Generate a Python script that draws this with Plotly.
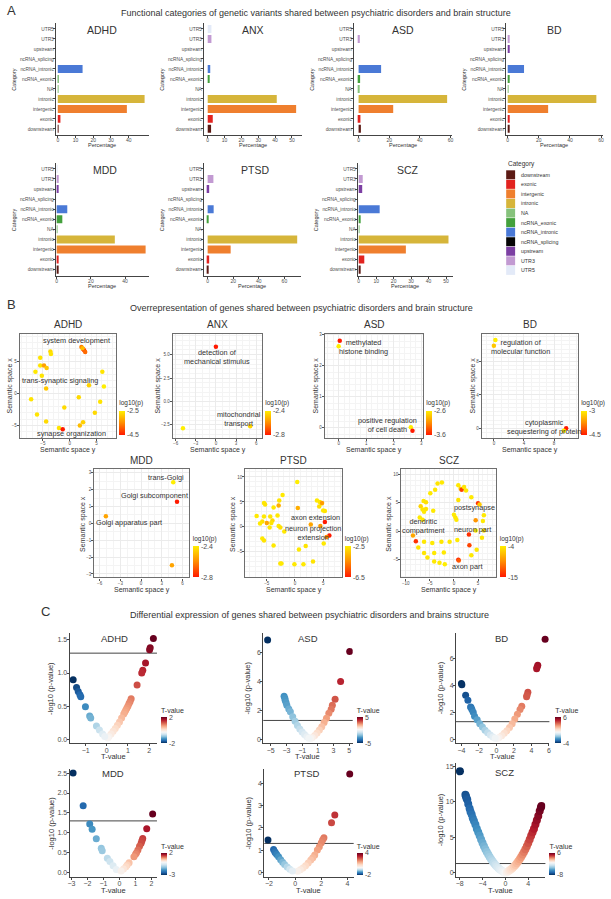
import plotly.graph_objects as go

W, H = 611, 899
FONT = "Liberation Sans, Arial, sans-serif"
TXT = "#333333"
TICK = "#4d4d4d"

# ---------------- A: functional categories ----------------
categories = ["downstream", "exonic", "intergenic", "intronic", "NA", "ncRNA_exonic",
              "ncRNA_intronic", "ncRNA_splicing", "upstream", "UTR3", "UTR5"]
cat_colors = ["#5c1a14", "#e2231f", "#ef7f2e", "#d6b53a", "#86c27c", "#43a03c",
              "#4a79d6", "#050505", "#7c3fa3", "#c29ad2", "#e3eaf8"]
a_disorders = ["ADHD", "ANX", "ASD", "BD", "MDD", "PTSD", "SCZ"]
pct_adhd = [0.3, 1.5, 39, 49, 0.3, 0.3, 14, 0, 0, 0, 0]
pct_anx = [2.0, 3.0, 52.5, 41, 0, 0.8, 1.5, 0, 0, 2.2, 2.2]
pct_asd = [1.5, 1.2, 22.6, 57.8, 0.5, 1.0, 14.7, 0, 0, 0.8, 0]
pct_bd = [1.0, 1.3, 26, 57, 0.5, 1.0, 10.5, 0, 1.3, 0.8, 0]
pct_mdd = [0.6, 0.6, 52, 34, 0.5, 3.3, 6.2, 0, 0.8, 1.2, 0.3]
pct_ptsd = [0.6, 1.2, 18, 70, 0, 0.8, 4.7, 0, 1.2, 4.5, 0]
pct_scz = [1.0, 3.2, 27, 51.4, 0.5, 1.0, 12, 0, 2.0, 2.3, 0.3]
a_pct = [pct_adhd, pct_anx, pct_asd, pct_bd, pct_mdd, pct_ptsd, pct_scz]
a_ticks = [[0, 10, 20, 30, 40], [0, 10, 20, 30, 40, 50], [0, 20, 40, 60], [0, 20, 40, 60],
           [0, 20, 40], [0, 20, 40, 60], [0, 10, 20, 30, 40, 50]]

# ---------------- B: semantic space of GO terms ----------------
b_disorders = ["ADHD", "ANX", "ASD", "BD", "MDD", "PTSD", "SCZ"]
adhd_sem_y = [2.2, 2.5, 2.7, 2.9, 2.4, -3.6, -3.5, -5.5, -6.4, -5.5, -4.8, -4.3, -5.2, -4.4, -7.2,
              3.6, 6.1, 6.4, 1.7, -1.0, 5.7, -6.1, 4.7, -4.4, 2.5, 1.9, -2.0, -1.3]
adhd_sem_x = [7.3, 7.0, 6.8, 6.5, 7.1, 6.6, 6.2, 5.6, 3.4, 4.4, 4.4, 4.0, 2.8, 0.8, -0.9,
              1.3, 3.4, 1.1, -0.6, -2.2, -1.3, -3.3, -3.0, -4.4, -4.5, -5.0, -5.4, -5.6]
adhd_logp = [-3.6, -3.9, -4.2, -3.8, -3.0, -2.7, -2.6, -2.6, -2.55, -2.6, -3.3, -2.9, -2.6, -2.9, -2.6,
             -2.8, -2.6, -2.5, -2.7, -2.7, -2.6, -2.6, -2.7, -2.7, -2.8, -3.0, -2.6, -4.5]
anx_sem_y = [0.0, -4.9, 5.1]
anx_sem_x = [5.85, -2.86, -2.65]
anx_logp = [-2.8, -2.4, -2.45]
asd_sem_y = [0.04, 0.0, 2.62, 2.68]
asd_sem_x = [2.81, 2.63, 0.02, -0.09]
asd_logp = [-3.6, -2.6, -2.6, -3.6]
bd_sem_y = [0.2, 0.0, 9.6, 9.3]
bd_sem_x = [10.6, 9.9, 0.0, -0.3]
bd_logp = [-3.0, -3.3, -4.5, -3.0]
mdd_sem_y = [4.65, 5.2, -5.1, 4.46]
mdd_sem_x = [2.44, 1.28, 0.43, -2.48]
mdd_logp = [-2.4, -2.8, -2.55, -2.55]
ptsd_sem_y = [0.4, -2.2, -2.8, -2.9, -5.5, -5.3, -3.8, 0.5, -6.8, -5.5, -4.4, -3.1, -5.8, -4.0, -5.0,
              -6.2, -4.2, -2.9, -2.6, -4.5, -1.9, -5.8, -5.5, -3.8, 0.7, 1.9, -2.6, -2.4, -0.1, 1.5,
              3.2, 3.9, 4.4, 4.7, 4.3, 4.8, 5.0, 5.3, 2.8, 4.5, 5.3, 6.1, 5.6, 5.1]
ptsd_sem_x = [9.0, 6.4, 5.3, 4.3, 4.8, 4.5, 3.9, 3.8, 2.2, 2.1, 2.1, 2.3, 1.1, 1.3, 0.8,
              0.7, 0.8, 0.2, -0.1, -0.1, -0.9, -2.3, -2.7, -3.7, -4.5, -3.8, -7.3, -7.3, -7.5, -7.5,
              -6.9, 5.3, 5.0, 4.7, 4.1, 4.8, 3.3, 3.2, 0.5, 0.2, 1.0, -1.7, -2.0, -3.3]
ptsd_logp = [-2.5, -2.6, -2.7, -3.8, -2.6, -2.7, -2.6, -3.8, -2.6, -2.6, -2.7, -2.6, -2.8, -3.0, -4.0,
             -2.6, -2.7, -2.6, -2.8, -2.6, -2.6, -2.6, -2.7, -2.6, -2.6, -2.7, -2.7, -2.6, -2.6, -2.6,
             -2.7, -2.6, -2.7, -2.6, -2.8, -4.2, -2.6, -2.7, -4.0, -4.2, -6.5, -6.5, -4.5, -2.6]
scz_sem_y = [-3.4, -2.5, -3.9, -4.9, 0.9, 1.4, 1.6, 2.1, 2.5, 0.9, 3.6, 5.0, 5.3, -6.3, -5.8,
             -6.9, -6.5, -6.2, -5.8, -4.3, -7.1, -6.5, 0.0, 0.3, 0.5, 4.5, 6.2, 6.0, 6.2, 4.5,
             3.1, 5.8, -8.5, -7.9, -7.4, -6.2, -4.5, -2.6, -0.9, 0.7, 3.2, 4.7, 3.6, -6.2, -4.1,
             -2.1, -5.5, -4.1, -3.0, -1.9, 0.9, 1.0]
scz_sem_x = [8.4, 8.6, 7.3, 6.7, 8.1, 7.5, 7.3, 7.8, 7.2, 5.5, 6.0, 4.9, 4.7, 5.3, 5.1,
             4.4, 3.8, 3.4, 3.9, 3.6, 2.4, 2.0, 2.9, 2.4, 2.0, 1.9, 2.8, 1.8, 0.1, 0.1,
             -0.6, -1.2, -0.8, -1.8, -2.9, -1.9, -2.1, -1.9, -1.9, -1.6, -2.5, -3.3, -4.3, -3.9, -3.9,
             -3.8, -4.7, -5.4, -5.6, -5.9, -5.1, -5.2]
scz_logp = [-4.5, -4.3, -4.4, -4.2, -4.3, -5.5, -13, -4.5, -4.3, -4.6, -4.2, -14, -6, -4.4, -4.8,
            -5.5, -4.5, -4.3, -4.6, -4.2, -4.3, -4.4, -4.2, -4.4, -4.3, -9, -4.3, -4.2, -4.5, -4.3,
            -14, -4.4, -8, -14, -4.6, -4.3, -4.2, -4.4, -4.3, -4.2, -13, -4.4, -4.3, -4.5, -4.2,
            -4.3, -4.4, -4.3, -4.2, -4.0, -15, -12]
b_points = [(adhd_sem_y, adhd_sem_x, adhd_logp), (anx_sem_y, anx_sem_x, anx_logp),
            (asd_sem_y, asd_sem_x, asd_logp), (bd_sem_y, bd_sem_x, bd_logp),
            (mdd_sem_y, mdd_sem_x, mdd_logp), (ptsd_sem_y, ptsd_sem_x, ptsd_logp),
            (scz_sem_y, scz_sem_x, scz_logp)]
# term labels: (text, semantic y, semantic x)
b_terms = [
    [("system development", 1.3, 8.3), ("trans-synaptic signaling", -1.9, 2.0), ("synapse organization", 0.4, -6.2)],
    [("detection of<br>mechanical stimulus", 0.2, 4.8), ("mitochondrial<br>transport", 3.5, -1.9)],
    [("methylated<br>histone binding", 0.9, 2.6), ("positive regulation<br>of cell death", 1.77, 0.1)],
    [("regulation of<br>molecular function", 3.6, 9.7), ("cytoplasmic<br>sequestering of protein", 6.6, 0.2)],
    [("trans-Golgi", 3.67, 2.72), ("Golgi subcomponent", 1.94, 1.65), ("Golgi apparatus part", -1.68, 0.04)],
    [("axon extension", 3.6, 1.9), ("neuron projection<br>extension", 3.2, -1.3)],
    [("postsynapse", 4.2, 4.1), ("dendritic<br>compartment", -6.4, 0.9), ("neuron part", 3.9, 0.2), ("axon part", 2.7, -6.2)],
]
b_ticks_x = [[-5, 0, 5], [-6, -3, 0, 3, 6], [0, 1, 2, 3], [0, 4, 8], [-6, -3, 0, 3, 6], [-5, 0, 5], [-10, -5, 0, 5]]
b_ticks_y = [[-5, 0, 5], [-2.5, 0, 2.5, 5], [0, 1, 2, 3], [0, 4, 8], [-3, -2, -1, 0, 1, 2, 3], [-5, 0, 5, 10], [-5, 0, 5, 10]]

# ---------------- C: volcano plots ----------------
c_disorders = ["ADHD", "ASD", "BD", "MDD", "PTSD", "SCZ"]
adhd_t = [2.2, 2.05, 2.02, 1.83, 1.7, 1.65, 1.43, 1.15, 1.1, 1.05, 1.0, 0.95, 0.9, 0.85, 0.8, 0.7,
          0.6, 0.5, 0.4, 0.3, 0.2, 0.1, 0.05, -1.59, -1.43, -1.35, -1.27, -1.23, -1.01, -0.81, -0.76,
          -0.49, -0.35, -0.2, -0.1]
adhd_p = [1.52, 1.38, 1.35, 1.15, 1.04, 1.0, 0.82, 0.61, 0.57, 0.54, 0.5, 0.47, 0.44, 0.41, 0.38, 0.32,
          0.26, 0.21, 0.16, 0.12, 0.08, 0.04, 0.02, 0.9, 0.78, 0.72, 0.67, 0.64, 0.49, 0.35, 0.32,
          0.2, 0.14, 0.08, 0.04]
asd_t = [5.06, 3.9, 3.2, 2.85, 2.7, 2.4, 2.1, 1.8, 1.5, 1.2, 0.9, 0.6, 0.3, 0.1, -5.4, -3.3, -3.2,
         -3.16, -3.05, -2.95, -2.7, -2.5, -2.2, -1.9, -1.6, -1.3, -1.0, -0.7, -0.4, -0.15]
asd_p = [6.1, 4.0, 2.78, 2.36, 2.08, 1.8, 1.45, 1.15, 0.87, 0.63, 0.43, 0.26, 0.12, 0.04, 6.9, 2.98, 2.85,
         2.7, 2.55, 2.36, 2.1, 1.9, 1.55, 1.24, 0.95, 0.7, 0.5, 0.32, 0.17, 0.06]
bd_t = [5.57, 4.73, 4.65, 4.6, 3.6, 3.5, 3.45, 2.9, 2.7, 2.4, 2.1, 1.8, 1.5, 1.2, 0.9, 0.6, 0.3, 0.1,
        -4.0, -3.95, -3.52, -3.26, -2.95, -2.9, -2.8, -2.65, -2.5, -2.2, -1.9, -1.6, -1.3, -1.0, -0.7,
        -0.4, -0.15]
bd_p = [7.43, 5.5, 5.35, 5.25, 3.5, 3.27, 3.15, 2.45, 2.2, 1.85, 1.5, 1.15, 0.87, 0.63, 0.43, 0.26, 0.12, 0.04,
        4.14, 4.05, 3.27, 2.9, 2.4, 2.35, 2.2, 2.0, 1.7, 1.45, 1.15, 0.9, 0.67, 0.48, 0.3,
        0.16, 0.06]
mdd_t = [-2.9, -2.27, -1.86, -1.71, -1.45, -1.14, -1.08, -0.76, -0.6, -0.4, -0.2, 2.07, 1.7, 1.45, 1.4,
         1.35, 1.25, 1.15, 1.06, 1.0, 0.9, 0.6, 0.48, 0.4, 0.25, 0.1]
mdd_p = [2.5, 1.68, 1.22, 1.09, 0.85, 0.61, 0.55, 0.36, 0.28, 0.17, 0.08, 1.47, 1.1, 0.86, 0.8,
         0.74, 0.66, 0.57, 0.5, 0.46, 0.4, 0.25, 0.19, 0.15, 0.09, 0.04]
ptsd_t = [4.17, 3.03, 2.78, 2.2, 2.1, 2.0, 1.85, 1.7, 1.5, 1.35, 1.2, 1.0, 0.8, 0.6, 0.4, 0.2,
          -2.07, -1.64, -1.55, -1.5, -1.4, -1.26, -1.1, -0.95, -0.8, -0.6, -0.4, -0.2]
ptsd_p = [4.42, 2.58, 2.23, 1.55, 1.45, 1.33, 1.15, 1.0, 0.78, 0.66, 0.55, 0.42, 0.3, 0.2, 0.12, 0.05,
          1.45, 1.03, 0.93, 0.88, 0.8, 0.7, 0.57, 0.45, 0.35, 0.24, 0.14, 0.06]
scz_t = [-7.95, -7.0, -6.9, -6.8, -6.67, -6.5, -6.26, -6.1, -5.9, -5.7, -5.5, -5.25, -5.0, -4.75, -4.5,
         -4.25, -4.0, -3.75, -3.5, -3.25, -3.0, -2.75, -2.5, -2.25, -2.0, -1.75, -1.5, -1.25, -1.0, -0.75,
         -0.5, -0.25, 0, 0.25, 0.5, 0.75, 1.0, 1.25, 1.5, 1.75, 2.0, 2.25, 2.5, 2.75, 3.0, 3.25, 3.5,
         3.75, 4.0, 4.25, 4.5, 4.75, 5.0, 5.25, 5.5, 5.75, 6.0, 6.2, 6.3]
scz_p = [14.3, 11.0, 10.8, 10.5, 10.3, 9.7, 9.07, 8.6, 8.2, 7.7, 7.3, 6.8, 6.2, 5.7, 5.2,
         4.7, 4.2, 3.75, 3.33, 2.94, 2.57, 2.23, 1.91, 1.61, 1.34, 1.1, 0.87, 0.68, 0.5, 0.34,
         0.21, 0.09, 0, 0.09, 0.21, 0.34, 0.5, 0.68, 0.87, 1.1, 1.34, 1.61, 1.91, 2.23, 2.57, 2.94, 3.33,
         3.75, 4.2, 4.7, 5.2, 5.7, 6.2, 6.8, 7.4, 8.0, 8.7, 9.2, 9.4]
c_points = [(adhd_t, adhd_p), (asd_t, asd_p), (bd_t, bd_p), (mdd_t, mdd_p), (ptsd_t, ptsd_p), (scz_t, scz_p)]
c_ticks_x = [[-1, 0, 1, 2], [-5, -3, -1, 1, 3, 5], [-4, -2, 0, 2, 4, 6], [-3, -2, -1, 0, 1, 2], [-2, 0, 2, 4], [-8, -4, 0, 4]]
c_ticks_y = [[0, 0.5, 1.0, 1.5], [0, 2, 4, 6], [0, 2, 4, 6], [0, 0.5, 1.0, 1.5, 2.0, 2.5], [0, 1, 2, 3, 4], [0, 5, 10, 15]]
p_threshold = 1.3

# ---------------- layout geometry (pixels) ----------------
a_boxes = [(54, 22, 148, 134), (203, 22, 302, 134), (354, 22, 453, 134), (507, 22, 605, 134),
           (54, 162, 148, 275), (203, 162, 301, 275), (358, 162, 454, 275)]
a_xrange = [[-1.2, 51.5], [-2.4, 56], [-3.2, 61], [-1.3, 61.3], [-0.6, 54], [-3.1, 73], [-0.6, 54]]
b_boxes = [(18, 333, 115, 437), (172, 333, 262, 437), (325, 333, 424, 437), (483, 333, 580, 437),
           (93, 469, 188, 577), (245, 469, 342, 577), (402, 469, 497, 577)]
b_xrange = [[-9.3, 8.7], [-6.4, 6.9], [-0.5, 3.07], [-1.6, 11.2], [-6.76, 6.9], [-8.8, 8.3], [-10.9, 8.66]]
b_yrange = [[-6.9, 9.4], [-3.86, 7.25], [-0.31, 3.04], [-1.1, 11.36], [-3.2, 3.2], [-10.1, 11.5], [-8.2, 10.9]]
b_ytitle_gap = [10, 15, 9, 9, 11, 12, 12]
b_cbar_x = [118, 265, 427, 583, 192, 345, 501]
c_boxes = [(68, 633, 156, 743), (263, 633, 353, 743), (457, 633, 551, 743),
           (68, 769, 156, 877), (264, 769, 354, 877), (457, 763, 547, 877)]
c_xrange = [[-1.76, 2.37], [-5.95, 5.44], [-4.62, 6.06], [-3.12, 2.34], [-2.35, 4.47], [-8.64, 7.0]]
c_yrange = [[-0.06, 1.6], [-0.28, 7.36], [-0.3, 7.88], [-0.11, 2.6], [-0.21, 4.64], [-0.6, 15.45]]
c_cbar_x = [160, 357, 557, 160, 357, 551]
c_title_xy = [(113, 638), (308, 638), (503, 638), (112, 773), (307, 773), (506, 772)]

fig = go.Figure()
lay = {}
anns = []
shapes = []


def refs(i):
    return ("x" if i == 1 else f"x{i}"), ("y" if i == 1 else f"y{i}")


def keys(i):
    return ("xaxis" if i == 1 else f"xaxis{i}"), ("yaxis" if i == 1 else f"yaxis{i}")


def dom(box):
    l, t, r, b = box
    return [l / W, r / W], [1 - b / H, 1 - t / H]


def text(x, y, s, size, xanchor="center", **kw):
    col = kw.pop("color", TXT)
    anns.append(dict(x=x / W, y=1 - y / H, xref="paper", yref="paper", text=s, showarrow=False,
                     xanchor=xanchor, yanchor="middle",
                     font=dict(size=size, color=col, family=FONT), **kw))


def cbar(x, top, bottom, title, vals, digits, tsize=7):
    hi, lo = max(vals), min(vals)
    fmt = (lambda v: f"{round(v, digits):g}") if digits else (lambda v: str(round(v)))
    return dict(x=x / W, xanchor="left", xpad=0, y=1 - bottom / H, yanchor="bottom", ypad=0,
                len=bottom - top, lenmode="pixels", thickness=6, outlinewidth=0,
                tickvals=[hi, lo], ticktext=[fmt(hi), fmt(lo)], ticks="",
                tickfont=dict(size=7, color=TICK, family=FONT),
                title=dict(text=title, side="top", font=dict(size=tsize, color=TXT, family=FONT)))


def div_scale(lo, hi):
    m = -lo / (hi - lo)
    blues = ["#053061", "#2166ac", "#4393c3", "#92c5de", "#d1e5f0", "#f7f7f7"]
    reds = ["#fddbc7", "#f4a582", "#d6604d", "#b2182b", "#67001f"]
    sc = [[m * k / 5, c] for k, c in enumerate(blues)]
    sc += [[m + (1 - m) * (k + 1) / 5, c] for k, c in enumerate(reds)]
    return sc


# ---- panel A
for k, name in enumerate(a_disorders):
    i = k + 1
    xr, yr = refs(i)
    xk, yk = keys(i)
    fig.add_trace(go.Bar(x=a_pct[k], y=categories, orientation="h", width=0.8,
                         marker=dict(color=cat_colors, line=dict(width=0)),
                         xaxis=xr, yaxis=yr, showlegend=False))
    xd, yd = dom(a_boxes[k])
    common = dict(showline=True, linecolor="#444", linewidth=0.8, ticks="outside", ticklen=2,
                  tickcolor="#444", showgrid=False, zeroline=False, ticklabelstandoff=-2)
    lay[xk] = dict(domain=xd, anchor=yr, range=a_xrange[k], tickvals=a_ticks[k],
                   tickfont=dict(size=5, color=TICK), **common)
    lay[yk] = dict(domain=yd, anchor=xr, type="category", categoryorder="array", categoryarray=categories,
                   range=[-0.6, 10.6], tickfont=dict(size=4.8, color=TICK), **common)
    l, t, r, b = a_boxes[k]
    text((l + r) / 2 + (0 if k < 4 else 3), t + 7, name, 10.5)
    text((l + r) / 2, b + 10, "Percentage", 5.5)
    text(l - 42, (t + b) / 2, "Category", 5.5, textangle=-90)

# legend for A
text(507, 163, "Category", 6.5, xanchor="left")
for j, (cat, col) in enumerate(zip(categories, cat_colors)):
    yc = 174 + j * 9.57
    shapes.append(dict(type="rect", xref="paper", yref="paper", x0=507.5 / W, x1=516.5 / W,
                       y0=1 - (yc + 4.5) / H, y1=1 - (yc - 4.5) / H, fillcolor=col, line=dict(width=0)))
    text(520, yc, cat, 5.3, xanchor="left")

# ---- panel B
for k, name in enumerate(b_disorders):
    i = 8 + k
    xr, yr = refs(i)
    xk, yk = keys(i)
    sy, sx, lp = b_points[k]
    ca = f"coloraxis{k + 1}" if k else "coloraxis"
    fig.add_trace(go.Scatter(x=sy, y=sx, mode="markers", xaxis=xr, yaxis=yr, showlegend=False,
                             marker=dict(color=lp, coloraxis=ca, size=4.5, line=dict(width=0))))
    xd, yd = dom(b_boxes[k])
    common = dict(showline=True, mirror=True, linecolor="#6e6e6e", linewidth=1.3, ticks="outside",
                  ticklen=2, tickcolor="#555", tickfont=dict(size=4.5, color=TICK), showgrid=True,
                  gridcolor="#ebebeb", gridwidth=0.6, zeroline=False, ticklabelstandoff=-1,
                  minor=dict(showgrid=True, gridcolor="#f4f4f4", gridwidth=0.4))
    lay[xk] = dict(domain=xd, anchor=yr, range=b_xrange[k], tickvals=b_ticks_x[k], **common)
    lay[yk] = dict(domain=yd, anchor=xr, range=b_yrange[k], tickvals=b_ticks_y[k],
                   tickformat=".1f" if k == 1 else None, **common)
    for lbl, tx, ty in b_terms[k]:
        anns.append(dict(x=tx, y=ty, xref=xr, yref=yr, text=lbl, showarrow=False,
                         xanchor="center", yanchor="middle",
                         font=dict(size=7.3, color=TXT, family=FONT)))
    l, t, r, b = b_boxes[k]
    text((l + r) / 2, t - 9, name, 10)
    text((l + r) / 2, b + 12.5, "Semantic space y", 7)
    text(l - b_ytitle_gap[k], (t + b) / 2, "Semantic space x", 7, textangle=-90)
    top, bottom = (397, 434) if k < 4 else (533, 577)
    lay[ca] = dict(colorscale=[[0, "#ff1a00"], [0.5, "#ff8c00"], [1, "#ffee00"]],
                   cmin=min(lp), cmax=max(lp),
                   colorbar=cbar(b_cbar_x[k], top, bottom, "log10(p)", lp, 1, 6.5))

# ---- panel C
for k, name in enumerate(c_disorders):
    i = 15 + k
    xr, yr = refs(i)
    xk, yk = keys(i)
    tv, pv = c_points[k]
    ca = f"coloraxis{8 + k}"
    fig.add_trace(go.Scatter(x=tv, y=pv, mode="markers", xaxis=xr, yaxis=yr, showlegend=False,
                             marker=dict(color=tv, coloraxis=ca, size=7 if k < 5 else 8, line=dict(width=0))))
    xd, yd = dom(c_boxes[k])
    common = dict(showline=True, linecolor="#444", linewidth=1, ticks="outside", ticklen=2,
                  tickcolor="#444", tickfont=dict(size=7, color=TICK), showgrid=False, zeroline=False,
                  ticklabelstandoff=-2)
    lay[xk] = dict(domain=xd, anchor=yr, range=c_xrange[k], tickvals=c_ticks_x[k], **common)
    lay[yk] = dict(domain=yd, anchor=xr, range=c_yrange[k], tickvals=c_ticks_y[k],
                   tickformat=".1f" if k in (0, 3) else None, **common)
    shapes.append(dict(type="line", xref=f"{xr} domain", x0=0, x1=1, yref=yr, y0=p_threshold, y1=p_threshold,
                       line=dict(color="#444", width=1), layer="below"))
    l, t, r, b = c_boxes[k]
    tx, ty = c_title_xy[k]
    text(tx, ty, name, 9.5)
    text((l + r) / 2, b + 13, "T-value", 7.5)
    text(l - (19 if k in (0, 3) else 16), (t + b) / 2, "-log10 (p-value)", 7.5, textangle=-90)
    top, bottom = (705, 743) if k < 3 else (841, 875)
    lay[ca] = dict(colorscale=div_scale(min(tv), max(tv)), cmin=min(tv), cmax=max(tv),
                   colorbar=cbar(c_cbar_x[k], top, bottom, "T-value", tv, 0))

# section headings
text(10, 10, "A", 13)
text(316, 12, "Functional categories of genetic variants shared between psychiatric disorders and brain structure", 9)
text(10, 304, "B", 13)
text(301, 307, "Overrepresentation of genes shared between psychiatric disorders and brain structure", 9)
text(44, 611, "C", 13)
text(310, 615, "Differential expression of genes shared between psychiatric disorders and brains structure", 9)

fig.update_layout(width=W, height=H, margin=dict(l=0, r=0, t=0, b=0), paper_bgcolor="white",
                  plot_bgcolor="white", font=dict(family=FONT, color=TXT), showlegend=False,
                  annotations=anns, shapes=shapes, **lay)
fig.write_html("out.html", config={"displayModeBar": False},
               post_script="document.body.style.margin='0';")
